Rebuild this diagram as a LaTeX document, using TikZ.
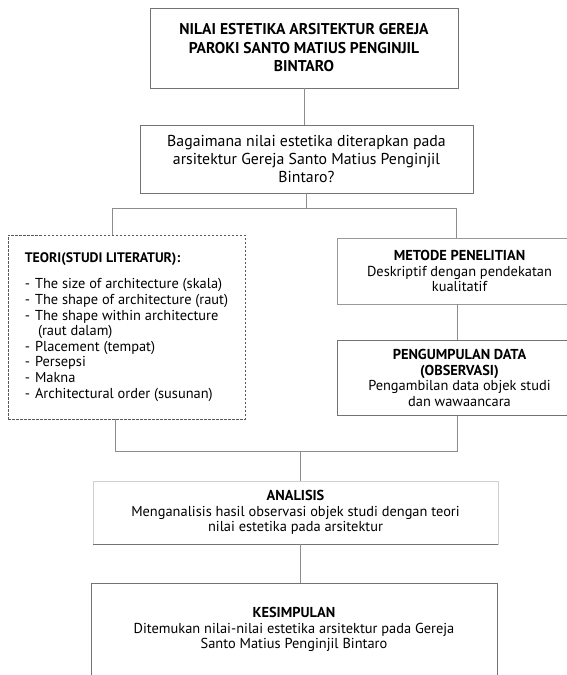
\documentclass[tikz,border=0pt]{standalone}
\usepackage{fontspec}
\setmainfont{PT Sans}
\usetikzlibrary{positioning}

\tikzset{
  kotak/.style={draw=black!55, line width=0.8pt, align=center, inner sep=0pt,
    font=\fontsize{14.4}{15.6}\selectfont},
  garis/.style={draw=black!45, line width=0.8pt},
}

\begin{document}
\begin{tikzpicture}[x=1pt,y=-1pt]
  \useasboundingbox (0,0) rectangle (566,675);
  \node[kotak, minimum width=308, minimum height=80,
    font=\bfseries\fontsize{15.6}{18.5}\selectfont] (judul) at (304,48)
    {NILAI ESTETIKA ARSITEKTUR GEREJA\\PAROKI SANTO MATIUS PENGINJIL\\BINTARO};
  \node[kotak, minimum width=333, minimum height=68,
    font=\fontsize{15.8}{18}\selectfont] (rumusan) at (306.5,159)
    {Bagaimana nilai estetika diterapkan pada\\arsitektur Gereja Santo Matius Penginjil\\Bintaro?};
  \node[kotak, draw=black!65, dash pattern=on 2.5pt off 1.5pt,
    minimum width=237, minimum height=184] (teori) at (126.5,327)
    {\begin{tabular}{@{}l@{\hspace{5pt}}l@{}}
      \multicolumn{2}{@{}l@{}}{\fontsize{13.8}{15.6}\selectfont\textbf{TEORI(STUDI LITERATUR):}}\\[11pt]
      - & The size of architecture (skala)\\
      - & The shape of architecture (raut)\\
      - & The shape within architecture\\
        & \hspace{3pt}(raut dalam)\\
      - & Placement (tempat)\\
      - & Persepsi\\
      - & Makna\\
      - & Architectural order (susunan)
    \end{tabular}};
  \node[kotak, draw=black!40, minimum width=245, minimum height=66] (metode) at (459.5,271)
    {\textbf{METODE PENELITIAN}\\Deskriptif dengan pendekatan\\kualitatif};
  \node[kotak, minimum width=245, minimum height=75] (kumpul) at (459.5,378)
    {\textbf{PENGUMPULAN DATA}\\\textbf{(OBSERVASI)}\\Pengambilan data objek studi\\dan wawaancara};
  \node[kotak, draw=black!18, minimum width=405, minimum height=63] (analisis) at (295.5,512.5)
    {\textbf{ANALISIS}\\Menganalisis hasil observasi objek studi dengan teori\\nilai estetika pada arsitektur};
  \node[kotak, minimum width=406, minimum height=120, anchor=north] (simpul) at (294,583) {};
  \node[kotak, draw=none, below=24pt of simpul.north] (simpulteks)
    {\textbf{KESIMPULAN}\\Ditemukan nilai-nilai estetika arsitektur pada Gereja\\Santo Matius Penginjil Bintaro};

  % titik belok
  \coordinate (kiri) at (112,208);
  \coordinate (kanan) at (456,208);
  \coordinate (gabungkiri) at (115,451);
  \coordinate (gabungkanan) at (457,451);
  \coordinate (tengah) at (300,451);

  \begin{scope}[garis]
    \draw[draw=black!55] (analisis.south west) -- (analisis.south east);
    \draw (judul.south) -- (rumusan.north -| judul.south);
    \draw (rumusan.south) -- (rumusan.south |- kiri);
    \draw (teori.north -| kiri) -- (kiri) -- (kanan) -- (metode.north -| kanan);
    \draw (metode.south -| gabungkanan) -- (kumpul.north -| gabungkanan);
    \draw (teori.south -| gabungkiri) -- (gabungkiri) -- (gabungkanan) -- (kumpul.south -| gabungkanan);
    \draw (tengah) -- (analisis.north -| tengah);
    \draw (analisis.south -| tengah) -- (simpul.north -| tengah);
  \end{scope}
\end{tikzpicture}
\end{document}
